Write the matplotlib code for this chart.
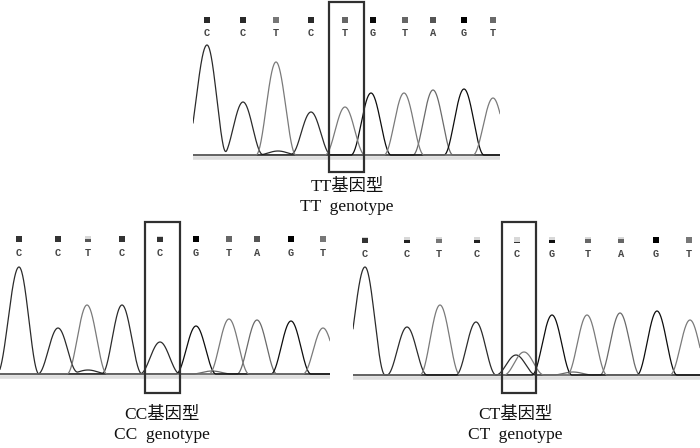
import matplotlib
matplotlib.use("Agg")
import matplotlib.pyplot as plt
import numpy as np
from matplotlib.patches import Rectangle

# -------------------------------
# Chromatogram data
# (peak position in trace units, peak height, base of the trace)
# the last entries are the small background humps on the baseline
# -------------------------------
tt_pos = [14, 50, 83, 118, 152, 178, 211, 240, 271, 300, 85]
tt_height = [110, 53, 93, 43, 48, 62, 62, 65, 66, 57, 4]
tt_trace = "CCTCTGTAGTC"
tt_calls = "CCTCTGTAGT"
tt_call_pos = [14, 50, 83, 118, 152, 180, 212, 240, 271, 300]
tt_qual = [1, 1, 1, 1, 1, 1, 1, 1, 1, 1]
tt_shade = ["#2a2a2a", "#2a2a2a", "#777777", "#2a2a2a", "#666666",
            "#0a0a0a", "#666666", "#555555", "#000000", "#6a6a6a"]

cc_pos = [19, 58, 87, 122, 160, 196, 229, 257, 291, 323, 88, 212]
cc_height = [107, 46, 69, 69, 32, 48, 55, 54, 53, 46, 4, 3]
cc_trace = "CCTCCGTAGTCA"
cc_calls = "CCTCCGTAGT"
cc_call_pos = [19, 58, 88, 122, 160, 196, 229, 257, 291, 323]
cc_qual = [1, 1, 0.5, 1, 0.85, 1, 1, 1, 1, 1]
cc_shade = ["#333333", "#333333", "#555555", "#333333", "#333333",
            "#000000", "#666666", "#555555", "#000000", "#777777"]

ct_pos = [12, 54, 87, 123, 163, 171, 199, 234, 267, 304, 337, 220]
ct_height = [108, 48, 70, 53, 20, 23, 60, 60, 62, 64, 55, 3]
ct_trace = "CCTCCTGTAGTA"
ct_calls = "CCTCCGTAGT"
ct_call_pos = [12, 54, 86, 124, 164, 199, 235, 268, 303, 336]
ct_qual = [0.9, 0.45, 0.7, 0.5, 0.15, 0.55, 0.6, 0.7, 1, 1]
ct_shade = ["#333333", "#222222", "#777777", "#222222", "#333333",
            "#111111", "#666666", "#666666", "#000000", "#777777"]

cn_labels = ["TT基因型", "CC基因型", "CT基因型"]
en_labels = ["TT  genotype", "CC  genotype", "CT  genotype"]

# -------------------------------
# Layout (pixels of the 700x448 figure)
# -------------------------------
W, H = 700, 448
HALF = 20.0       # half width of one peak at its foot
LEAD_HALF = 22.0  # first peak has a longer left flank
trace_color = {"C": "#2b2b2b", "G": "#0d0d0d", "T": "#7a7a7a", "A": "#6a6a6a"}

fig = plt.figure(figsize=(7, 4.48), dpi=100)
fig.patch.set_facecolor("white")


def panel(px_left, px_right, px_top, px_bottom, baseline_px):
    ax = fig.add_axes([px_left / W, 1 - px_bottom / H,
                       (px_right - px_left) / W, (px_bottom - px_top) / H])
    ax.set_xlim(0, px_right - px_left)
    ax.set_ylim(-(px_bottom - baseline_px), baseline_px - px_top)
    ax.axis("off")
    return ax


def peak(x, p, h, left):
    L = np.where(x < p, left, HALF)
    u = np.clip(np.abs(x - p) / L, 0, 1)
    return h * np.cos(0.5 * np.pi * u) ** 2


def draw_panel(ax, pos, height, trace, calls, call_pos, qual, shade, box):
    xmax = ax.get_xlim()[1]
    x = np.linspace(0, xmax, 1400)
    ax.axhline(-2.5, color="#dedede", lw=2.6, zorder=1)
    for base in "ACGT":
        y = np.zeros_like(x)
        for i, (p, h, b) in enumerate(zip(pos, height, trace)):
            if b == base:
                y += peak(x, p, h, LEAD_HALF if i == 0 else HALF)
        ax.plot(x, y, color=trace_color[base], lw=0.9, zorder=3,
                solid_joinstyle="round")
    for c, cp, q, sh in zip(calls, call_pos, qual, shade):
        ax.add_patch(Rectangle((cp - 3, 132), 6, 6, facecolor="#d8d8d8",
                               edgecolor="none", clip_on=False, zorder=2))
        ax.add_patch(Rectangle((cp - 3, 132), 6, 6 * q, facecolor=sh,
                               edgecolor="none", clip_on=False, zorder=2))
        ax.text(cp, 121.5, c, ha="center", va="center", fontsize=7.5,
                family="Liberation Mono", weight="bold", color="#454545")
    bx0, bx1, by0, by1 = box
    ax.add_patch(Rectangle((bx0, by0), bx1 - bx0, by1 - by0, fill=False,
                           edgecolor="#303030", lw=1.6, clip_on=False, zorder=4))


ax_tt = panel(193, 500, 10, 160, 155)
draw_panel(ax_tt, tt_pos, tt_height, tt_trace, tt_calls, tt_call_pos,
           tt_qual, tt_shade, (136, 171, -17, 153))

ax_cc = panel(0, 330, 230, 380, 374)
draw_panel(ax_cc, cc_pos, cc_height, cc_trace, cc_calls, cc_call_pos,
           cc_qual, cc_shade, (145, 180, -19, 152))

ax_ct = panel(353, 700, 230, 380, 375)
draw_panel(ax_ct, ct_pos, ct_height, ct_trace, ct_calls, ct_call_pos,
           ct_qual, ct_shade, (149, 183, -18, 153))

# -------------------------------
# Captions
# -------------------------------
font = ["Liberation Serif", "Noto Sans CJK SC"]
centres = [(347, 187, 207), (162, 415, 435), (515, 415, 435)]
for (cx, y1, y2), cn, en in zip(centres, cn_labels, en_labels):
    fig.text(cx / W, 1 - y1 / H, cn, ha="center", va="center",
             fontsize=12.5, family=font, color="#111111")
    fig.text(cx / W, 1 - y2 / H, en, ha="center", va="center",
             fontsize=12.5, family=font, color="#111111")

fig.savefig("out.png", dpi=100, facecolor="white")
